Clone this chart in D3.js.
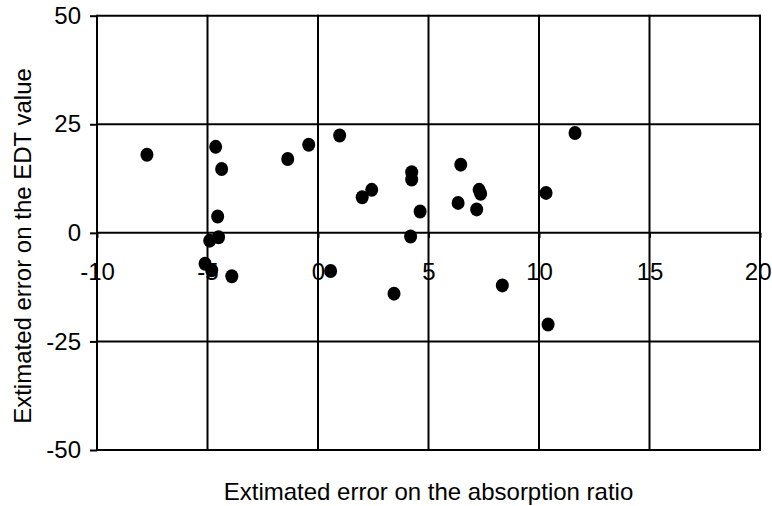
<!DOCTYPE html>
<html>
<head>
<meta charset="utf-8">
<script src="https://cdn.jsdelivr.net/npm/d3@7"></script>
<style>
  body { margin: 0; background: #fff; }
  svg text { font-family: "Liberation Sans", Arial, sans-serif; fill: #000; }
</style>
</head>
<body>
<div id="chart"></div>
<script>
// error estimates
const absorptionErr = [-7.74, -4.63, -4.36, -4.54, -4.9, -4.5, -5.11, -4.81, -3.9,
  -1.37, -0.42, 0.98, 0.57, 2.0, 2.43, 3.44, 4.24, 4.24, 4.62, 4.19,
  6.46, 6.34, 7.29, 7.36, 7.18, 8.34, 10.32, 10.41, 11.63];
const edtErr = [18.0, 19.8, 14.7, 3.75, -1.8, -1.0, -7.1, -8.6, -10.0,
  17.0, 20.3, 22.4, -8.8, 8.2, 9.9, -14.0, 13.95, 12.3, 4.9, -0.85,
  15.7, 6.9, 9.9, 9.0, 5.4, -12.1, 9.2, -21.1, 23.0];

const xTicks = [-10, -5, 0, 5, 10, 15, 20];
const yTicks = [-50, -25, 0, 25, 50];
const xTitle = 'Extimated error on the absorption ratio';
const yTitle = 'Extimated error on the EDT value';

const width = 772, height = 506;
const margin = {top: 15.7, right: 12, bottom: 56, left: 97};

const svg = d3.select('#chart').append('svg')
  .attr('width', width)
  .attr('height', height);

const x = d3.scaleLinear()
  .domain([-10, 20])
  .range([margin.left, width - margin.right]);

const y = d3.scaleLinear()
  .domain([-50, 50])
  .range([height - margin.bottom, margin.top]);

// grid
const grid = svg.append('g')
  .attr('stroke', '#000')
  .attr('stroke-width', 2);

grid.selectAll('.v')
  .data(xTicks)
  .join('line')
    .attr('class', 'v')
    .attr('x1', d => x(d)).attr('x2', d => x(d))
    .attr('y1', y(50) - 1).attr('y2', y(-50) + 1);

grid.selectAll('.h')
  .data(yTicks)
  .join('line')
    .attr('class', 'h')
    .attr('x1', x(-10)).attr('x2', x(20) + 1)
    .attr('y1', d => y(d)).attr('y2', d => y(d));

// y axis
svg.append('g')
  .attr('transform', `translate(${x(-10)},0)`)
  .call(d3.axisLeft(y).tickValues(yTicks).tickSize(7).tickPadding(9).tickFormat(d => d))
  .call(g => g.select('.domain').remove())
  .call(g => g.selectAll('.tick line').attr('stroke', '#000').attr('stroke-width', 2))
  .call(g => g.selectAll('.tick text')
    .attr('font-size', 24)
    .attr('font-family', '"Liberation Sans", Arial, sans-serif'));

// x axis sits on y = 0, labels well below it
svg.append('g')
  .attr('transform', `translate(0,${y(0)})`)
  .call(d3.axisBottom(x).tickValues(xTicks).tickSize(5).tickPadding(0).tickFormat(d => d))
  .call(g => g.select('.domain').remove())
  .call(g => g.selectAll('.tick line').attr('stroke', '#000').attr('stroke-width', 2))
  .call(g => g.selectAll('.tick text')
    .attr('y', 47)
    .attr('dy', 0)
    .attr('font-size', 24)
    .attr('font-family', '"Liberation Sans", Arial, sans-serif'))
  // last label is pushed in so it stays on the page
  .call(g => g.selectAll('.tick text').filter(d => d === 20)
    .attr('text-anchor', 'end')
    .attr('x', width - 1 - x(20)));

// points
svg.append('g')
  .selectAll('ellipse')
  .data(absorptionErr)
  .join('ellipse')
    .attr('cx', d => x(d))
    .attr('cy', (d, i) => y(edtErr[i]))
    .attr('rx', 6.5)
    .attr('ry', 7)
    .attr('fill', '#000');

// titles
svg.append('text')
  .attr('x', (x(-10) + x(20)) / 2)
  .attr('y', 500)
  .attr('text-anchor', 'middle')
  .attr('font-size', 24)
  .text(xTitle);

svg.append('text')
  .attr('transform', 'translate(31,246) rotate(-90)')
  .attr('text-anchor', 'middle')
  .attr('font-size', 24)
  .text(yTitle);
</script>
</body>
</html>
